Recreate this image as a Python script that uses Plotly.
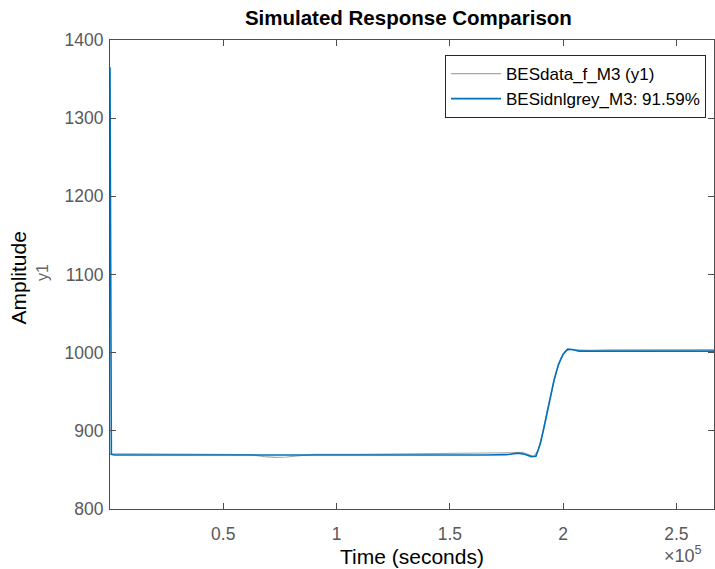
import plotly.graph_objects as go

# Time (seconds) and amplitudes
t_model = [0, 600, 2000, 10000, 30000, 50000, 70000, 90000, 110000, 130000, 150000,
           165000, 175000, 180000, 183000, 186000, 188000, 190000, 192000, 194000,
           196000, 198000, 200000, 202000, 204000, 207000, 212000, 220000, 240000, 266600]
y_model = [1365, 870, 869, 869, 869, 869, 868.5, 869, 869, 869, 868.5,
           869, 869.5, 871.5, 870, 867, 867.5, 884, 910, 939, 965, 985, 998, 1004.5,
           1004, 1002, 1002, 1002, 1002, 1002]

t_data = [0, 2000, 10000, 30000, 50000, 62000, 68000, 73000, 78000, 84000, 90000,
          110000, 130000, 150000, 170000, 178000, 182000, 185000, 187000, 189000,
          191000, 193000, 195000, 197000, 199000, 201000, 203000, 206000, 212000,
          220000, 240000, 266600]
y_data = [870, 870.5, 870.5, 870, 870, 869.5, 867, 866, 866.5, 868.5, 870,
          870, 870.5, 870.5, 871, 872, 872.5, 869, 867, 875, 898, 926, 953, 976,
          993, 1002, 1004, 1003.5, 1003, 1003.5, 1004, 1004]

x_tickvals = [50000, 100000, 150000, 200000, 250000]
x_ticktext = ["0.5", "1", "1.5", "2", "2.5"]
y_tickvals = [800, 900, 1000, 1100, 1200, 1300, 1400]

font_family = "Liberation Sans, Arial, Helvetica, sans-serif"

fig = go.Figure()
fig.add_trace(go.Scatter(x=t_data, y=y_data, mode="lines",
                         name="BESdata_f_M3 (y1)",
                         line=dict(color="#a6a6a6", width=1.2)))
fig.add_trace(go.Scatter(x=t_model, y=y_model, mode="lines",
                         name="BESidnlgrey_M3: 91.59%",
                         line=dict(color="#0072BD", width=1.6)))

axis_common = dict(showline=True, linecolor="#4d4d4d", linewidth=1, mirror="ticks",
                   ticks="inside", ticklen=6, tickcolor="#4d4d4d", showgrid=False,
                   zeroline=False, automargin=False,
                   tickfont=dict(size=17.5, color="#595959", family=font_family))

fig.update_layout(
    width=715, height=569,
    margin=dict(l=110, r=1, t=40, b=60),
    paper_bgcolor="white", plot_bgcolor="white",
    font=dict(family=font_family),
    title=dict(text="<b>Simulated Response Comparison</b>", x=0.494, xanchor="center",
               xref="paper", y=1 - 17.5 / 569, yanchor="middle", yref="container",
               font=dict(size=20.5, color="black")),
    xaxis=dict(range=[0, 266600], tickvals=x_tickvals, ticktext=x_ticktext,
               ticklabelstandoff=9, **axis_common),
    yaxis=dict(range=[800, 1400], tickvals=y_tickvals, ticklabelstandoff=2,
               **axis_common),
    legend=dict(x=0.9868, y=0.968, xanchor="right", yanchor="top",
                bgcolor="white", bordercolor="#262626", borderwidth=1,
                itemwidth=50,
                font=dict(size=17, color="black"), tracegroupgap=0),
    showlegend=True,
)

fig.add_annotation(text="Time (seconds)", xref="paper", yref="paper", x=0.5, y=(509 - 556) / 469,
                   xanchor="center", yanchor="middle", showarrow=False,
                   font=dict(size=21, color="black"))
fig.add_annotation(text="Amplitude", xref="paper", yref="paper", x=-0.1507, y=0.4936,
                   xanchor="center", yanchor="middle", textangle=-90, showarrow=False,
                   font=dict(size=21, color="black"))
fig.add_annotation(text="y1", xref="paper", yref="paper", x=-0.1118, y=0.504,
                   xanchor="center", yanchor="middle", textangle=-90, showarrow=False,
                   font=dict(size=16, color="#666666"))
fig.add_annotation(text="\u00d710<sup>5</sup>", xref="paper", yref="paper", x=0.9834,
                   y=(509 - 568) / 469, xanchor="right", yanchor="bottom", showarrow=False,
                   font=dict(size=18, color="#595959"))

fig.write_html("out.html", config={"displayModeBar": False},
               post_script="document.body.style.margin='0';document.body.style.overflow='hidden';")
